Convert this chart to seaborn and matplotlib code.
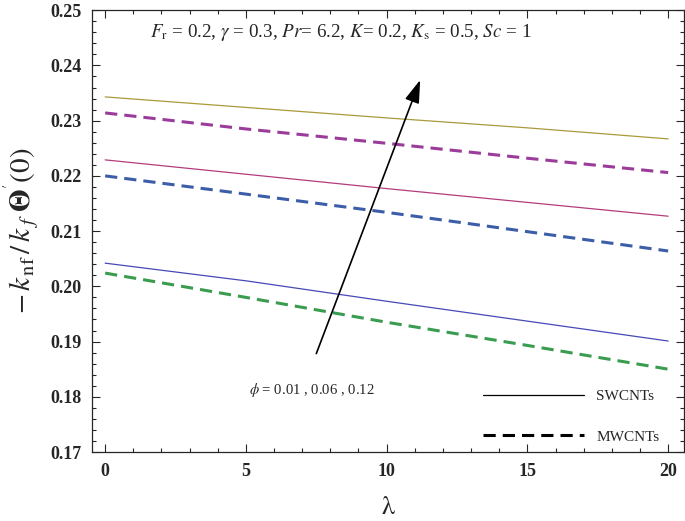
import matplotlib
matplotlib.use("Agg")
import matplotlib.pyplot as plt
import seaborn as sns
import pandas as pd
from matplotlib.lines import Line2D
from matplotlib.ticker import MultipleLocator

# --- DATA ---
lam = [0, 5, 10, 15, 20]
sw_phi012 = [0.2343, 0.2324, 0.2305, 0.2287, 0.2267]
mw_phi012 = [0.2314, 0.2285, 0.2259, 0.2232, 0.2206]
sw_phi006 = [0.2229, 0.2203, 0.2177, 0.2152, 0.2127]
mw_phi006 = [0.2200, 0.2167, 0.2134, 0.2099, 0.2064]
sw_phi001 = [0.2042, 0.2010, 0.1973, 0.1937, 0.1901]
mw_phi001 = [0.2024, 0.1980, 0.1935, 0.1893, 0.1850]

series = [
    (sw_phi012, "#a99a3c", "-"),
    (mw_phi012, "#9b3c9b", "--"),
    (sw_phi006, "#b33c7a", "-"),
    (mw_phi006, "#3c5ea8", "--"),
    (sw_phi001, "#4848b8", "-"),
    (mw_phi001, "#3a9c4f", "--"),
]

sns.set_style("ticks")
plt.rcParams['font.family'] = ['Liberation Serif', 'DejaVu Serif']
plt.rcParams['mathtext.fontset'] = 'stix'

fig = plt.figure(figsize=(6.85, 5.21), dpi=100)
ax = fig.add_axes([0.135, 0.1324, 0.863, 0.848])

for vals, color, ls in series:
    df = pd.DataFrame({"lam": lam, "val": vals})
    if ls == "-":
        sns.lineplot(data=df, x="lam", y="val", ax=ax, color=color, lw=0.9)
    else:
        sns.lineplot(data=df, x="lam", y="val", ax=ax, color=color, lw=2.2,
                     dashes=False, linestyle=(0, (4, 2.3)))

ax.set_xlim(-0.45, 20.55)
ax.xaxis.set_major_locator(MultipleLocator(5))
ax.xaxis.set_minor_locator(MultipleLocator(1))
ax.yaxis.set_major_locator(MultipleLocator(0.01))
ax.yaxis.set_minor_locator(MultipleLocator(0.002))
ax.tick_params(which='both', direction='in', top=True, right=True, width=0.8)
ax.tick_params(which='major', length=6, labelsize=13, pad=8)
ax.tick_params(which='minor', length=3)
yt = [0.17, 0.18, 0.19, 0.20, 0.21, 0.22, 0.23, 0.24, 0.25]
ax.set_yticks(yt)
ax.set_yticklabels([f"{v:.2f}" for v in yt], fontweight='bold')
ax.set_xticks([0, 5, 10, 15, 20])
ax.set_xticklabels(["0", "5", "10", "15", "20"], fontweight='bold')
ax.set_ylim(0.17, 0.25)

ax.set_xlabel(r"$\mathrm{\lambda}$", fontsize=19, labelpad=12)
ax.set_ylabel(r"$-\,k_{\,\mathrm{nf}}\,/\,k_{\;f}\;\mathbf{\Theta}^{'}(0)$", fontsize=21, labelpad=6)

ax.text(0.098, 0.95, r"$F_{\mathrm{r}}$ = 0.2, $\gamma$ = 0.3, $Pr$= 6.2, $K$= 0.2, $K_{\mathrm{s}}$ = 0.5, $Sc$ = 1",
        transform=ax.transAxes, fontsize=13.7, va='center')
ax.text(0.264, 0.14, r"$\phi$ = 0.01 , 0.06 , 0.12", transform=ax.transAxes,
        fontsize=10.6, va='center')

ax.annotate("", xy=(0.556, 0.848), xytext=(0.377, 0.217),
            xycoords='axes fraction', textcoords='axes fraction',
            arrowprops=dict(arrowstyle='-|>,head_length=1.4,head_width=0.45',
                            color='black', lw=1.2))

handles = [Line2D([], [], color='black', lw=0.9),
           Line2D([], [], color='black', lw=2.2, linestyle=(0, (4, 2.3)))]
ax.legend(handles, ["SWCNTs", "MWCNTs"], loc='lower right', frameon=False,
          handlelength=6.6, labelspacing=1.75, fontsize=11,
          bbox_to_anchor=(0.982, -0.012))

for s in ax.spines.values():
    s.set_linewidth(0.9)

plt.savefig("out.png", dpi=100)
plt.close()
